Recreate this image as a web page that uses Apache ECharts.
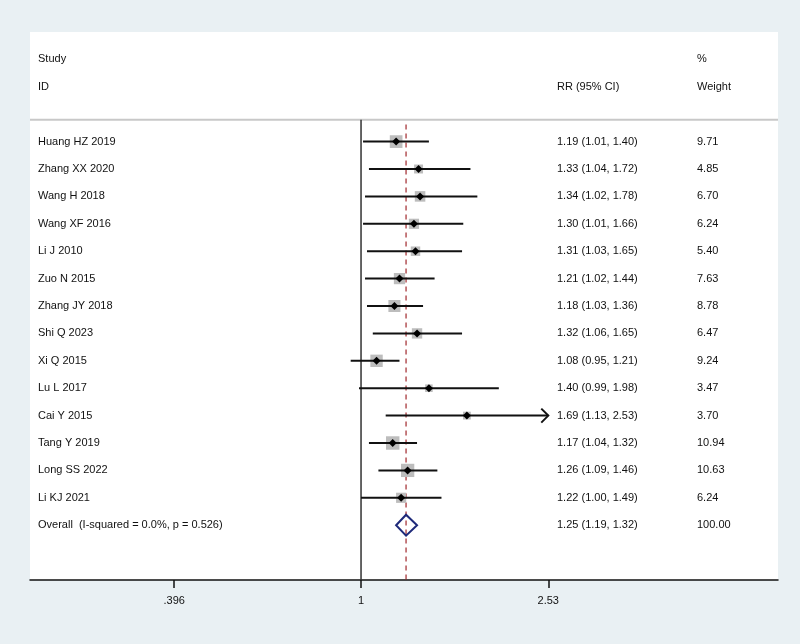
<!DOCTYPE html>
<html>
<head>
<meta charset="utf-8">
<script src="https://cdn.jsdelivr.net/npm/echarts@6/dist/echarts.min.js"></script>
<style>
html,body{margin:0;padding:0;background:#e9f0f3;}
#c{width:800px;height:644px;}
</style>
</head>
<body>
<div id="c"></div>
<script>
// ---- data ----
var studies = ["Huang HZ 2019","Zhang XX 2020","Wang H 2018","Wang XF 2016","Li J 2010","Zuo N 2015","Zhang JY 2018","Shi Q 2023","Xi Q 2015","Lu L 2017","Cai Y 2015","Tang Y 2019","Long SS 2022","Li KJ 2021"];
var rr     = [1.19,1.33,1.34,1.30,1.31,1.21,1.18,1.32,1.08,1.40,1.69,1.17,1.26,1.22];
var lower  = [1.01,1.04,1.02,1.01,1.03,1.02,1.03,1.06,0.95,0.99,1.13,1.04,1.09,1.00];
var upper  = [1.40,1.72,1.78,1.66,1.65,1.44,1.36,1.65,1.21,1.98,2.53,1.32,1.46,1.49];
var weight = [9.71,4.85,6.70,6.24,5.40,7.63,8.78,6.47,9.24,3.47,3.70,10.94,10.63,6.24];
var overallLabel = "Overall  (I-squared = 0.0%, p = 0.526)";
var overallRR = 1.25, overallLower = 1.19, overallUpper = 1.32, overallWeight = 100.00;
var tickValues = [0.396, 1, 2.53];
var tickLabels = [".396", "1", "2.53"];
var headerLeft = ["Study", "ID"];
var headerMid = "RR (95% CI)";
var headerRight = ["%", "Weight"];

function fmt2(v){ return v.toFixed(2); }
var L = Math.log;
var axisMaxVal = tickValues[tickValues.length-1];

var FONT = 'Liberation Sans, Arial, sans-serif';
var FS = 11;

var rows = studies.map(function(s,i){
  return [L(rr[i]), i, L(lower[i]), L(upper[i]), weight[i], i];
});

var chart = echarts.init(document.getElementById('c'));
var tickLn = tickValues.map(function(v){return L(v);});

function textEl(x,y,str){
  return {type:'text', x:x, y:y, style:{text:str, font: FS+'px '+FONT, fill:'#111', textAlign:'left', textVerticalAlign:'middle'}, silent:true};
}

var option = {
  backgroundColor: '#e9f0f3',
  animation: false,
  grid: {left:30, right:22, top:32, bottom:64, show:true, backgroundColor:'#ffffff', borderWidth:0},
  xAxis: {
    type:'value', min: -1.641, max: 2.067,
    splitLine:{show:false},
    axisLine:{show:true, onZero:false, lineStyle:{color:'#111', width:1.5}},
    axisTick:{show:true, customValues: tickLn, length:8, lineStyle:{color:'#111', width:1.5}},
    axisLabel:{show:true, customValues: tickLn, margin:15, color:'#111', fontFamily:FONT, fontSize:FS,
      formatter:function(v){
        var best=0, bd=1e9;
        for (var k=0;k<tickLn.length;k++){ var d=Math.abs(tickLn[k]-v); if(d<bd){bd=d;best=k;} }
        return tickLabels[best];
      }}
  },
  yAxis: {type:'value', min:-4, max:16, inverse:true, show:false},
  series: [
    {type:'line', data:[[-1.641,-0.8],[2.067,-0.8]], symbol:'none', lineStyle:{color:'#c8c8c8', width:2}, silent:true, z:1},
    {type:'line', data:[[L(1),-0.8],[L(1),16]], symbol:'none', lineStyle:{color:'#333', width:1.5}, silent:true, z:2},
    {type:'line', data:[[L(overallRR),-0.62],[L(overallRR),16]], symbol:'none', lineStyle:{color:'#a0262a', width:1.2, type:[5,4]}, silent:true, z:2},
    {type:'custom', silent:true, z:5, data:[[0,0]],
      renderItem:function(params, api){
        var cs = params.coordSys;
        var y1 = api.coord([0,-3])[1], y2 = api.coord([0,-2])[1];
        return {type:'group', children:[
          textEl(cs.x+8, y1, headerLeft[0]),
          textEl(cs.x+8, y2, headerLeft[1]),
          textEl(cs.x+527, y2, headerMid),
          textEl(cs.x+667, y1, headerRight[0]),
          textEl(cs.x+667, y2, headerRight[1])
        ]};
      }
    },
    {type:'custom', silent:true, z:6, data: rows,
      renderItem:function(params, api){
        var cs = params.coordSys;
        var i = api.value(5);
        var c = api.coord([api.value(0), api.value(1)]);
        var lo = api.coord([api.value(2), api.value(1)]);
        var hi = api.coord([api.value(3), api.value(1)]);
        var side = 4.07*Math.sqrt(api.value(4));
        var y = c[1];
        var children = [
          {type:'rect', shape:{x:c[0]-side/2, y:y-side/2, width:side, height:side}, style:{fill:'#bdbdbd'}, z2:1},
          {type:'line', shape:{x1:lo[0], y1:y, x2:hi[0], y2:y}, style:{stroke:'#111', lineWidth:2}, z2:2},
          {type:'polygon', shape:{points:[[c[0]-4,y],[c[0],y-4],[c[0]+4,y],[c[0],y+4]]}, style:{fill:'#000'}, z2:3},
          textEl(cs.x+8, y, studies[i]),
          textEl(cs.x+527, y, fmt2(rr[i])+" ("+fmt2(lower[i])+", "+fmt2(upper[i])+")"),
          textEl(cs.x+667, y, fmt2(weight[i]))
        ];
        if (upper[i] >= axisMaxVal) {
          children.push({type:'polyline', shape:{points:[[hi[0]-7,y-7],[hi[0],y],[hi[0]-7,y+7]]}, style:{stroke:'#111', lineWidth:2, fill:null}, z2:2});
        }
        return {type:'group', children:children};
      }
    },
    {type:'custom', silent:true, z:6, data:[[L(overallRR), studies.length, L(overallLower), L(overallUpper)]],
      renderItem:function(params, api){
        var cs = params.coordSys;
        var c = api.coord([api.value(0), api.value(1)]);
        var lo = api.coord([api.value(2), api.value(1)]);
        var hi = api.coord([api.value(3), api.value(1)]);
        var y = c[1];
        return {type:'group', children:[
          {type:'polygon', shape:{points:[[lo[0],y],[c[0],y-10.5],[hi[0],y],[c[0],y+10.5]]}, style:{stroke:'#1f2a7a', lineWidth:2, fill:null}},
          textEl(cs.x+8, y, overallLabel),
          textEl(cs.x+527, y, fmt2(overallRR)+" ("+fmt2(overallLower)+", "+fmt2(overallUpper)+")"),
          textEl(cs.x+667, y, overallWeight.toFixed(2))
        ]};
      }
    }
  ]
};
chart.setOption(option);
</script>
</body>
</html>
